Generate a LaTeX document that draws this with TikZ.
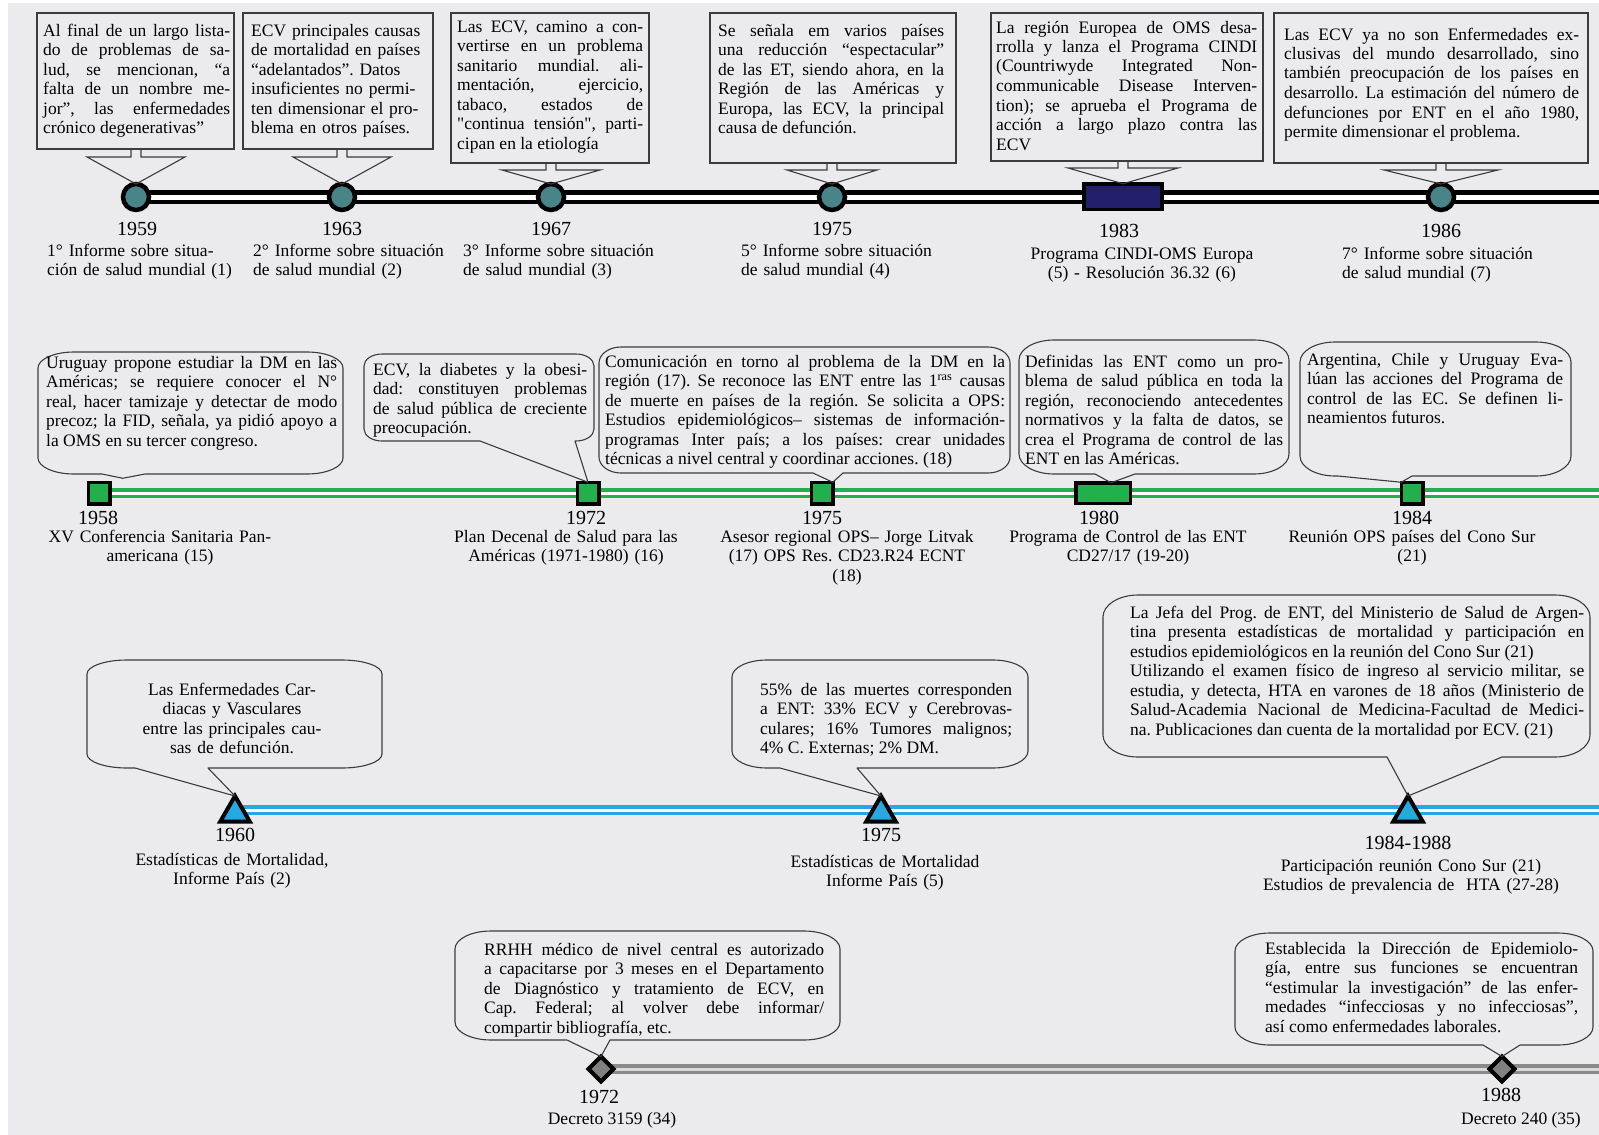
\documentclass[tikz,border=0pt]{standalone}
\usepackage{fontspec}
\setmainfont{Liberation Serif}[Ligatures=TeXOff]
\frenchspacing
\usetikzlibrary{shapes.geometric}
\pgfdeclarelayer{bottom}
\pgfdeclarelayer{lines}
\pgfsetlayers{bottom,lines,main}

\definecolor{canvas}{RGB}{235,235,237}
\definecolor{frame}{RGB}{60,60,60}
\definecolor{tealmark}{RGB}{72,132,136}
\definecolor{navymark}{RGB}{35,31,107}
\definecolor{greenmark}{RGB}{34,176,76}
\definecolor{bluemark}{RGB}{38,168,224}
\definecolor{graymark}{RGB}{128,128,128}
\definecolor{grayline}{RGB}{138,138,138}

\newcommand\txt{\fontsize{17.5}{19.5}\selectfont}
\newcommand\yr{\fontsize{20}{22}\selectfont}
% one justified line of a paragraph (interword glue of the font, stretched to the full width)
\newcommand\jl[1]{{\spaceskip=0pt\xspaceskip=0pt\makebox[\hsize][s]{#1}}}

% rounded speech bubble: x1 y1 x2 y2, pointer base (left,right) on the bottom edge, pointer tip
\def\brx{30}\def\bry{16}
\newcommand\bubble[7]{%
  \draw[bubbleline]
    ({#1+\brx},#2) -- ({#3-\brx},#2)
    .. controls ({#3-0.448*\brx},#2) and (#3,{#2+0.448*\bry}) .. (#3,{#2+\bry})
    -- (#3,{#4-\bry})
    .. controls (#3,{#4-0.448*\bry}) and ({#3-0.448*\brx},#4) .. ({#3-\brx},#4)
    -- (#6,#4) -- (#7) -- (#5,#4) -- ({#1+\brx},#4)
    .. controls ({#1+0.448*\brx},#4) and (#1,{#4-0.448*\bry}) .. (#1,{#4-\bry})
    -- (#1,{#2+\bry})
    .. controls (#1,{#2+0.448*\bry}) and ({#1+0.448*\brx},#2) .. ({#1+\brx},#2) -- cycle;}

% arrow under a framed box: centre x, box bottom, neck bottom, half width of head, tip
\newcommand\boxpointer[5]{%
  \draw[frameline] ({#1-5},#2) -- ({#1-5},#3) -- ({#1-#4},#3) -- (#5)
    -- ({#1+#4},#3) -- ({#1+5},#3) -- ({#1+5},#2);}

\begin{document}
\begin{tikzpicture}[x=1pt,y=-1pt,
  frameline/.style={draw=frame, line width=1.1pt, line join=miter},
  bubbleline/.style={draw=frame, line width=1.1pt, line join=round},
  infobox/.style={draw=frame, line width=1.1pt, inner sep=0pt, outer sep=0pt, anchor=north west},
  para/.style={inner sep=0pt, font=\txt, text width=#1, align=justify, anchor=base west},
  parac/.style={inner sep=0pt, font=\txt, text width=#1, align=center, anchor=base},
  lblL/.style={inner sep=0pt, font=\txt, text width=#1, align=left, anchor=base west},
  lblC/.style={inner sep=0pt, font=\txt, text width=#1, align=center, anchor=base},
  yearlbl/.style={inner sep=0pt, font=\yr, anchor=base},
  circmark/.style={circle, draw=black, line width=4.5pt, fill=tealmark, minimum size=26pt, inner sep=0pt, outer sep=0pt},
  navybox/.style={rectangle, draw=black, line width=3.5pt, fill=navymark, minimum width=78pt, minimum height=25.5pt, inner sep=0pt, outer sep=0pt},
  sqmark/.style={rectangle, draw=black, line width=3.5pt, fill=greenmark, minimum size=21.5pt, inner sep=0pt, outer sep=0pt},
  greenbox/.style={rectangle, draw=black, line width=3.5pt, fill=greenmark, minimum width=54.5pt, minimum height=20.5pt, inner sep=0pt, outer sep=0pt},
  trimark/.style={regular polygon, regular polygon sides=3, draw=black, line width=4pt, fill=bluemark, minimum size=34pt, inner sep=0pt, outer sep=0pt},
  diamark/.style={diamond, aspect=1, draw=black, line width=4pt, fill=graymark, minimum size=25pt, inner sep=0pt, outer sep=0pt},
  tlblack/.style={draw=black, line width=4.5pt, double=white, double distance=5pt},
  tlgreen/.style={draw=greenmark, line width=3.5pt, double=white, double distance=3pt},
  tlblue/.style={draw=bluemark, line width=3.5pt, double=white, double distance=3pt},
  tlgray/.style={draw=grayline, line width=3.5pt, double=white!85!black, double distance=3pt}]

\useasboundingbox (0,0) rectangle (1599,1135);
\begin{pgfonlayer}{bottom}
  \fill[white] (0,0) rectangle (1599,1135);
  \fill[canvas] (8,3) rectangle (1599,1135);
\end{pgfonlayer}

% ---------- markers ----------
\node[circmark] (c1959) at (136,197) {};
\node[circmark] (c1963) at (342,197) {};
\node[circmark] (c1967) at (551,197) {};
\node[circmark] (c1975) at (832,197) {};
\node[navybox]  (r1983) at (1123,196.5) {};
\node[circmark] (c1986) at (1441,197) {};

\node[sqmark]   (s1958) at (99,493) {};
\node[sqmark]   (s1972) at (588,493) {};
\node[sqmark]   (s1975) at (822,493) {};
\node[greenbox] (r1980) at (1103,493) {};
\node[sqmark]   (s1984) at (1412,493) {};

\node[trimark] (t1960) at (235,813) {};
\node[trimark] (t1975) at (881,813) {};
\node[trimark] (t1984) at (1408,813) {};

\node[diamark] (d1972) at (601,1069) {};
\node[diamark] (d1988) at (1502,1069) {};

\coordinate (e1) at (1599,197);
\coordinate (e2) at (1599,493);
\coordinate (e3) at (1599,810);
\coordinate (e4) at (1599,1069);

\begin{pgfonlayer}{lines}
  \draw[tlblack] (c1959.center) -- (e1);
  \draw[tlgreen] (s1958.center) -- (e2);
  \draw[tlblue] (t1960 |- e3) -- (e3);
  \draw[tlgray] (d1972.center) -- (e4);
\end{pgfonlayer}

% ---------- first timeline: framed boxes ----------
\node[infobox, minimum width=197pt, minimum height=136pt] (b1) at (37,13) {};
\node[infobox, minimum width=190pt, minimum height=136pt] (b2) at (243,13) {};
\node[infobox, minimum width=198pt, minimum height=150pt] (b3) at (451,13) {};
\node[infobox, minimum width=246pt, minimum height=150pt] (b4) at (710,13) {};
\node[infobox, minimum width=272pt, minimum height=148pt] (b5) at (991,13) {};
\node[infobox, minimum width=314pt, minimum height=150pt] (b6) at (1274,13) {};

\boxpointer{136}{149}{157}{49}{c1959.north}
\boxpointer{342}{149}{157}{49}{c1963.north}
\boxpointer{551}{163}{170}{49}{c1967.north}
\boxpointer{832}{163}{170}{45}{c1975.north}
\boxpointer{1123}{161}{168}{55}{r1983.north}
\boxpointer{1441}{163}{170}{57}{c1986.north}

\node[para=187pt] (tb1) at (43,36) {%
\jl{Al final de un largo lista-}\\
\jl{do de problemas de sa-}\\
\jl{lud, se mencionan, “a}\\
\jl{falta de un nombre me-}\\
\jl{jor”, las enfermedades}\\
crónico degenerativas”};

\node[lblL=200pt] (tb2) at (251,36) {%
ECV principales causas\\
de mortalidad en países\\
“adelantados”. Datos\\
insuficientes no permi-\\
ten dimensionar el pro-\\
blema en otros países.};

\node[para=186pt] (tb3) at (457,32) {%
\jl{Las ECV, camino a con-}\\
\jl{vertirse en un problema}\\
\jl{sanitario mundial. ali-}\\
\jl{mentación, ejercicio,}\\
\jl{tabaco, estados de}\\
\jl{"continua tensión", parti-}\\
cipan en la etiología};

\node[para=226pt] (tb4) at (718,36) {%
\jl{Se señala em varios países}\\
\jl{una reducción “espectacular”}\\
\jl{de las ET, siendo ahora, en la}\\
\jl{Región de las Américas y}\\
\jl{Europa, las ECV, la principal}\\
causa de defunción.};

\node[para=261pt] (tb5) at (996,33) {%
\jl{La región Europea de OMS desa-}\\
\jl{rrolla y lanza el Programa CINDI}\\
\jl{(Countriwyde Integrated Non-}\\
\jl{communicable Disease Interven-}\\
\jl{tion); se aprueba el Programa de}\\
\jl{acción a largo plazo contra las}\\
ECV};

\node[para=295pt] (tb6) at (1284,40) {%
\jl{Las ECV ya no son Enfermedades ex-}\\
\jl{clusivas del mundo desarrollado, sino}\\
\jl{también preocupación de los países en}\\
\jl{desarrollo. La estimación del número de}\\
\jl{defunciones por ENT en el año 1980,}\\
permite dimensionar el problema.};

\node[yearlbl] (y1959) at (137,235) {1959};
\node[yearlbl] (y1963) at (342,235) {1963};
\node[yearlbl] (y1967) at (551,235) {1967};
\node[yearlbl] (y1975a) at (832,235) {1975};
\node[yearlbl] (y1983) at (1119,237) {1983};
\node[yearlbl] (y1986) at (1441,237) {1986};

\node[lblL=200pt] (l1959) at (47,256) {1° Informe sobre situa-\\ción de salud mundial (1)};
\node[lblL=210pt] (l1963) at (253,256) {2° Informe sobre situación\\de salud mundial (2)};
\node[lblL=210pt] (l1967) at (463,256) {3° Informe sobre situación\\de salud mundial (3)};
\node[lblL=210pt] (l1975a) at (741,256) {5° Informe sobre situación\\de salud mundial (4)};
\node[lblC=260pt] (l1983) at (1142,259) {Programa CINDI-OMS Europa\\(5) - Resolución 36.32 (6)};
\node[lblL=210pt] (l1986) at (1342,259) {7° Informe sobre situación\\de salud mundial (7)};

% ---------- second timeline: green ----------
\def\brx{36}\def\bry{16}
\bubble{38}{352}{343}{474}{102}{145}{[shift={(13pt,4pt)}]s1958.north east}
\def\brx{18}\def\bry{12}
\bubble{364}{354}{594}{441}{480}{575}{s1972.north}
\def\brx{22}\def\bry{16}
\bubble{599}{347}{1010}{473}{813}{843}{s1975.north east}
\def\brx{35}\def\bry{20}
\bubble{1019}{340}{1289}{474}{1095}{1135}{[xshift=8pt]r1980.north}
\bubble{1300}{342}{1571}{476}{1338}{1412}{s1984.north west}

\node[para=291pt] (tc1) at (46,368) {%
\jl{Uruguay propone estudiar la DM en las}\\
\jl{Américas; se requiere conocer el N°}\\
\jl{real, hacer tamizaje y detectar de modo}\\
\jl{precoz; la FID, señala, ya pidió apoyo a}\\
la OMS en su tercer congreso.};

\node[para=214pt] (tc2) at (373,375) {%
\jl{ECV, la diabetes y la obesi-}\\
\jl{dad: constituyen problemas}\\
\jl{de salud pública de creciente}\\
preocupación.};

\node[para=400pt] (tc3) at (605,367) {%
\jl{Comunicación en torno al problema de la DM en la}\\
\jl{región (17). Se reconoce las ENT entre las 1\textsuperscript{ras} causas}\\
\jl{de muerte en países de la región. Se solicita a OPS:}\\
\jl{Estudios epidemiológicos– sistemas de información-}\\
\jl{programas Inter país; a los países: crear unidades}\\
técnicas a nivel central y coordinar acciones. (18)};

\node[para=258pt] (tc4) at (1025,367) {%
\jl{Definidas las ENT como un pro-}\\
\jl{blema de salud pública en toda la}\\
\jl{región, reconociendo antecedentes}\\
\jl{normativos y la falta de datos, se}\\
\jl{crea el Programa de control de las}\\
ENT en las Américas.};

\node[para=256pt] (tc5) at (1307,365) {%
\jl{Argentina, Chile y Uruguay Eva-}\\
\jl{lúan las acciones del Programa de}\\
\jl{control de las EC. Se definen li-}\\
neamientos futuros.};

\node[yearlbl] (y1958) at (98,524) {1958};
\node[yearlbl] (y1972a) at (586,524) {1972};
\node[yearlbl] (y1975b) at (822,524) {1975};
\node[yearlbl] (y1980) at (1099,524) {1980};
\node[yearlbl] (y1984) at (1412,524) {1984};

\node[lblC=260pt] (l1958) at (160,542) {XV Conferencia Sanitaria Pan-\\americana (15)};
\node[lblC=260pt] (l1972a) at (566,542) {Plan Decenal de Salud para las\\Américas (1971-1980) (16)};
\node[lblC=270pt] (l1975b) at (847,542) {Asesor regional OPS– Jorge Litvak\\(17) OPS Res. CD23.R24 ECNT\\(18)};
\node[lblC=260pt] (l1980) at (1128,542) {Programa de Control de las ENT\\CD27/17 (19-20)};
\node[lblC=270pt] (l1984) at (1412,542) {Reunión OPS países del Cono Sur\\(21)};

% ---------- third timeline: blue ----------
\def\brx{40}\def\bry{14}
\bubble{87}{660}{382}{768}{135}{208}{t1960.corner 1}
\def\brx{35}\def\bry{17}
\bubble{732}{660}{1028}{768}{780}{857}{t1975.corner 1}
\def\brx{35}\def\bry{22}
\bubble{1103}{595}{1590}{757}{1387}{1502}{t1984.corner 1}

\node[parac=280pt] (tc6) at (232,695) {%
Las Enfermedades Car-\\
diacas y Vasculares\\
entre las principales cau-\\
sas de defunción.};

\node[para=252pt] (tc7) at (760,695) {%
\jl{55\% de las muertes corresponden}\\
\jl{a ENT: 33\% ECV y Cerebrovas-}\\
\jl{culares; 16\% Tumores malignos;}\\
4\% C. Externas; 2\% DM.};

\node[para=454pt] (tc8) at (1130,618) {%
\jl{La Jefa del Prog. de ENT, del Ministerio de Salud de Argen-}\\
\jl{tina presenta estadísticas de mortalidad y participación en}\\
estudios epidemiológicos en la reunión del Cono Sur (21)\\
\jl{Utilizando el examen físico de ingreso al servicio militar, se}\\
\jl{estudia, y detecta, HTA en varones de 18 años (Ministerio de}\\
\jl{Salud-Academia Nacional de Medicina-Facultad de Medici-}\\
na. Publicaciones dan cuenta de la mortalidad por ECV. (21)};

\node[yearlbl] (y1960) at (235,841) {1960};
\node[yearlbl] (y1975c) at (881,841) {1975};
\node[yearlbl] (y1984b) at (1408,849) {1984-1988};

\node[lblC=260pt] (l1960) at (232,865) {Estadísticas de Mortalidad,\\Informe País (2)};
\node[lblC=260pt] (l1975c) at (885,867) {Estadísticas de Mortalidad\\Informe País (5)};
\node[lblC=320pt] (l1984b) at (1411,871) {Participación reunión Cono Sur (21)\\Estudios de prevalencia de\ \ HTA (27-28)};

% ---------- fourth timeline: gray ----------
\def\brx{36}\def\bry{18}
\bubble{455}{931}{840}{1040}{567}{610}{d1972.north}
\def\brx{35}\def\bry{18}
\bubble{1235}{933}{1593}{1045}{1483}{1520}{d1988.north}

\node[para=340pt] (tc9) at (484,955) {%
\jl{RRHH médico de nivel central es autorizado}\\
\jl{a capacitarse por 3 meses en el Departamento}\\
\jl{de Diagnóstico y tratamiento de ECV, en}\\
\jl{Cap. Federal; al volver debe informar/}\\
compartir bibliografía, etc.};

\node[para=313pt] (tc10) at (1265,954) {%
\jl{Establecida la Dirección de Epidemiolo-}\\
\jl{gía, entre sus funciones se encuentran}\\
\jl{“estimular la investigación” de las enfer-}\\
\jl{medades “infecciosas y no infecciosas”,}\\
así como enfermedades laborales.};

\node[yearlbl] (y1972b) at (599,1103) {1972};
\node[yearlbl] (y1988) at (1501,1101) {1988};
\node[yearlbl, font=\txt] (l1972b) at (612,1124) {Decreto 3159 (34)};
\node[yearlbl, font=\txt] (l1988) at (1521,1124) {Decreto 240 (35)};

\end{tikzpicture}
\end{document}
